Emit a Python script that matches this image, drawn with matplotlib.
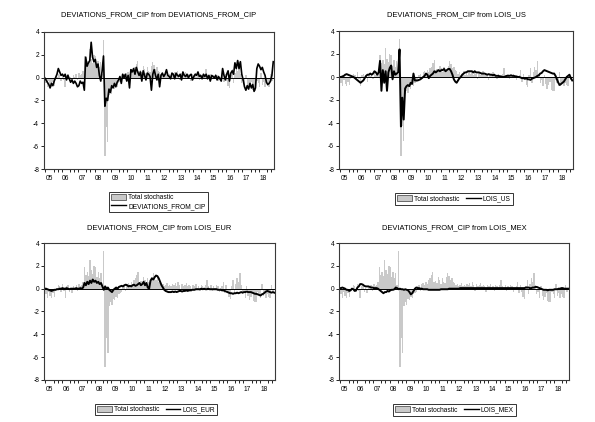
import numpy as np
import pandas as pd
import matplotlib
matplotlib.use("Agg")
import matplotlib.pyplot as plt
from matplotlib.patches import Patch
from matplotlib.lines import Line2D

# ---------------- data (monthly, Mar 2005 - Feb 2019) ----------------
start_month = "2005-03-01"
n_months = 168

total_stochastic = [
    -0.2, -0.5, -0.8, -0.3, -0.6, -0.8, -0.4, -0.7, -0.2, 0.1,
    0.3, 0.2, -0.3, 0.4, -0.2, -0.8, 0.2, 0.3, -0.3, 0.1, -0.4, 0.2,
    0.1, 0.3, -0.2, 0.4, 0.2, 0.3, 0.6, 1.9, 1.2, 1.5, 1.1, 2.5,
    1.6, 1.3, 2.0, 1.9, 1.0, 1.5, 0.9, 1.4, 0.3, 3.3, -6.9, -4.3,
    -5.6, -1.5, -1.2, -1.4, -0.9, -1.0, -0.7, -0.8, -0.5, -0.4, -0.3, 0.2,
    0.3, -0.2, 0.4, 0.5, 0.3, 0.6, 0.4, 0.8, 0.9, 1.2, 1.5, 0.6,
    0.7, 0.5, 1.0, 0.8, 0.4, 0.9, 0.6, 0.5, 1.0, 1.4, 1.1, 0.8,
    0.9, 0.6, 0.5, 0.3, 0.4, 0.2, 0.3, 0.5, 0.2, 0.3, 0.2, 0.4,
    0.3, 0.5, 0.2, 0.6, 0.3, -0.2, 0.4, 0.2, 0.3, 0.5, 0.2, 0.3,
    0.2, -0.3, 0.3, 0.2, 0.4, 0.1, 0.2, -0.2, 0.3, 0.2, 0.1, 0.3,
    0.8, 0.2, 0.1, 0.3, -0.2, 0.2, 0.1, 0.3, 0.2, -0.3, 0.1, 0.2,
    0.6, -0.4, 0.3, -0.3, -0.7, -0.9, 0.2, 0.8, -0.5, 0.4, 0.9, 0.6,
    1.4, 0.3, -0.5, -0.3, -0.8, 0.2, -0.6, -1.0, -0.7, -0.4, -1.1, -1.2,
    -1.2, -0.3, -0.5, -0.8, 0.4, -0.6, -0.4, -0.8, -0.5, -0.7, -0.8, 0.3,
    -0.3, 0.8,
]

deviations_from_cip = [
    0.0, -0.2, -0.4, -0.6, -0.9, -0.5, -0.7, -0.3, 0.0, 0.3,
    0.8, 0.5, 0.2, 0.3, 0.1, 0.3, -0.2, 0.2, -0.1, -0.4, -0.2, -0.5,
    -0.3, -0.5, -0.8, -0.7, -0.3, -0.5, -0.4, -1.1, 1.8, 1.0, 1.3, 1.5,
    3.1, 1.8, 1.4, 1.6, 0.9, 1.2, 0.2, -0.3, 0.6, 1.9, -2.5, -1.8,
    -2.0, -1.0, -1.3, -0.7, -0.9, -0.5, -0.8, -0.4, -0.2, 0.1, -0.5, 0.3,
    0.0, 0.3, -0.3, 0.2, -0.9, 0.7, 0.5, 0.8, 0.3, 0.9, 0.5, 0.2,
    0.5, -0.3, 0.6, 0.2, -0.2, 0.4, 0.3, 0.1, -1.1, 0.3, 0.7, 0.2,
    -0.2, 0.3, -0.8, 0.2, 0.4, 0.1, 0.3, 0.7, 0.2, 0.1, -0.1, 0.4,
    0.3, -0.1, 0.4, 0.2, 0.1, 0.3, -0.2, 0.5, 0.2, 0.1, 0.3, 0.0,
    0.2, 0.3, -0.2, 0.1, 0.3, 0.2, 0.5, 0.1, 0.2, -0.1, 0.3, 0.1,
    0.3, -0.1, 0.2, -0.3, 0.2, 0.1, 0.0, 0.2, -0.2, 0.1, -0.1, -0.3,
    0.8, 0.2, -0.2, 0.3, 0.6, -0.3, 0.4, 0.6, 0.3, 1.3, 0.8, 1.5,
    0.8, 1.4, 0.3, -0.2, -0.8, -1.1, -0.7, -1.0, -0.5, -0.9, -0.6, -1.2,
    -0.9, 0.8, 1.2, 1.0, 0.7, 0.9, 0.5, 0.2, -0.4, -0.6, -0.5, -0.3,
    0.2, 1.4,
]

lois_us = [
    0.0, 0.0, 0.05, 0.1, 0.2, 0.25, 0.2, 0.15, 0.1, 0.05,
    0.0, -0.1, -0.2, -0.3, -0.4, -0.5, -0.4, -0.3, -0.1, 0.1, 0.2, 0.2,
    0.3, 0.2, 0.3, 0.5, 0.4, 0.2, 0.4, 1.4, -1.2, 0.6, -0.5, 0.5,
    -1.2, 0.4, 0.8, 1.0, -0.2, 0.5, 0.2, 0.3, 0.4, 2.4, -4.3, -1.8,
    -3.7, -1.0, -0.8, -0.7, -0.8, -0.5, -0.6, 0.3, -0.3, -0.3, -0.3, -0.25,
    -0.2, -0.1, 0.0, 0.1, 0.3, 0.2, -0.1, 0.1, 0.2, 0.3, 0.5, 0.4,
    0.5, 0.6, 0.5, 0.6, 0.6, 0.7, 0.5, 0.6, 0.7, 0.7, 0.5, 0.2,
    -0.2, -0.4, -0.5, -0.3, -0.1, 0.0, 0.2, 0.3, 0.4, 0.4, 0.5, 0.5,
    0.5, 0.5, 0.4, 0.5, 0.4, 0.4, 0.4, 0.35, 0.3, 0.3, 0.3, 0.25,
    0.2, 0.25, 0.2, 0.2, 0.15, 0.2, 0.1, 0.1, 0.1, 0.05, 0.05, 0.0,
    0.0, 0.05, 0.1, 0.1, 0.1, 0.15, 0.1, 0.1, 0.05, 0.05, 0.0, 0.0,
    -0.05, -0.1, -0.1, -0.15, -0.1, -0.2, -0.2, -0.25, -0.15, -0.1, -0.05, 0.0,
    0.1, 0.15, 0.3, 0.35, 0.5, 0.6, 0.55, 0.5, 0.45, 0.4, 0.35, 0.3,
    0.3, 0.1, -0.2, -0.5, -0.7, -0.6, -0.5, -0.4, -0.2, 0.0, 0.1, 0.2,
    -0.1, -0.3,
]

lois_eur = [
    0.0, 0.0, -0.05, -0.1, -0.15, -0.2, -0.15, -0.1, -0.1, -0.05,
    -0.05, 0.0, 0.0, 0.05, 0.0, 0.0, 0.05, 0.0, -0.05, 0.0, 0.0, 0.0,
    0.0, 0.05, 0.0, 0.0, 0.05, 0.0, 0.1, 0.5, 0.3, 0.6, 0.4, 0.7,
    0.5, 0.8, 0.6, 0.7, 0.5, 0.6, 0.4, 0.5, 0.2, -0.1, 0.2, 0.0,
    0.1, -0.1, -0.2, -0.3, -0.1, 0.0, 0.1, 0.0, 0.15, 0.2, 0.25, 0.2,
    0.3, 0.35, 0.3, 0.2, 0.25, 0.2, 0.3, 0.35, 0.25, 0.3, 0.4, 0.5,
    0.3, 0.4, 0.6, 0.3, 0.5, 0.1, 0.0, 0.7, 0.9, 0.8, 1.0, 1.15,
    1.1, 0.9, 0.6, 0.3, 0.1, -0.1, -0.2, -0.25, -0.3, -0.3, -0.3, -0.25,
    -0.3, -0.25, -0.3, -0.25, -0.2, -0.2, -0.25, -0.2, -0.2, -0.15, -0.2, -0.15,
    -0.15, -0.1, -0.1, -0.1, -0.05, -0.05, -0.05, -0.05, 0.0, -0.05, 0.0, -0.05,
    -0.05, 0.0, -0.05, -0.05, -0.05, -0.05, -0.05, -0.05, -0.1, -0.1, -0.1, -0.15,
    -0.15, -0.2, -0.25, -0.3, -0.35, -0.4, -0.4, -0.45, -0.4, -0.4, -0.35, -0.4,
    -0.35, -0.3, -0.35, -0.3, -0.3, -0.25, -0.3, -0.3, -0.3, -0.35, -0.4, -0.45,
    -0.45, -0.5, -0.55, -0.6, -0.5, -0.45, -0.35, -0.25, -0.2, -0.25, -0.3, -0.35,
    -0.3, -0.35,
]

lois_mex = [
    0.05, 0.05, 0.1, 0.05, 0.0, -0.1, -0.1, -0.2, -0.15, 0.0,
    -0.05, -0.2, -0.15, 0.1, 0.2, 0.4, 0.4, 0.35, 0.25, 0.2, 0.2, 0.2,
    0.15, 0.1, 0.1, 0.05, 0.05, 0.05, 0.0, -0.1, -0.2, -0.3, -0.4, -0.3,
    -0.3, -0.2, -0.25, -0.15, -0.1, -0.1, -0.05, 0.1, 0.05, -0.05, 0.0, -0.05,
    -0.05, -0.1, -0.05, -0.1, -0.15, -0.3, -0.5, -0.4, -0.2, 0.0, 0.1, 0.05,
    0.05, 0.0, 0.0, -0.05, -0.05, -0.05, -0.05, -0.1, -0.1, -0.1, -0.1, -0.1,
    -0.1, -0.1, -0.1, -0.1, -0.05, -0.05, -0.05, -0.05, -0.05, -0.05, 0.0, 0.0,
    0.0, 0.0, 0.0, 0.0, 0.0, 0.0, 0.05, 0.05, 0.05, 0.05, 0.05, 0.05,
    0.05, 0.05, 0.05, 0.05, 0.05, 0.05, 0.05, 0.05, 0.05, 0.05, 0.05, 0.05,
    0.05, 0.05, 0.05, 0.05, 0.05, 0.05, 0.05, 0.05, 0.05, 0.05, 0.05, 0.05,
    0.05, 0.05, 0.05, 0.05, 0.05, 0.05, 0.05, 0.05, 0.05, 0.05, 0.05, 0.05,
    0.05, 0.05, 0.05, 0.05, 0.05, 0.05, 0.1, 0.1, 0.1, 0.05, 0.05, 0.1,
    0.1, 0.15, 0.15, 0.1, 0.05, 0.0, -0.05, -0.1, -0.1, -0.1, -0.15, -0.1,
    -0.1, -0.1, -0.1, -0.05, -0.05, -0.05, 0.0, 0.0, 0.05, 0.05, 0.0, 0.0,
    0.0, 0.0,
]

year_labels = ["05", "06", "07", "08", "09", "10", "11", "12",
               "13", "14", "15", "16", "17", "18"]
y_ticks = [-8, -6, -4, -2, 0, 2, 4]

panels = [
    ("DEVIATIONS_FROM_CIP from DEVIATIONS_FROM_CIP", deviations_from_cip, "DEVIATIONS_FROM_CIP"),
    ("DEVIATIONS_FROM_CIP from LOIS_US", lois_us, "LOIS_US"),
    ("DEVIATIONS_FROM_CIP from LOIS_EUR", lois_eur, "LOIS_EUR"),
    ("DEVIATIONS_FROM_CIP from LOIS_MEX", lois_mex, "LOIS_MEX"),
]

# ---------------- figure ----------------
plt.rcParams["font.family"] = ["Liberation Sans", "DejaVu Sans"]
plt.rcParams["axes.unicode_minus"] = False

W, H = 595, 422
fig = plt.figure(figsize=(W / 100, H / 100), dpi=100)
fig.patch.set_facecolor("white")

dates = pd.date_range(start_month, periods=n_months, freq="MS")
t = np.asarray(dates.year + (dates.month - 0.5) / 12.0, dtype=float)
gray = np.array(total_stochastic)

# axes boxes in pixels: (left, right, top, bottom)
boxes = [(44, 274, 32, 169), (339, 573, 31, 169),
         (44, 275, 243, 380), (339, 569, 243, 380)]
title_y = [15, 15, 228, 228]
legend_c = [(158.5, 202), (454, 199), (156, 409.5), (454.5, 410)]

GRAY = "#c9c9c9"
for i, ((l, r, tp, b), (title, series, lab)) in enumerate(zip(boxes, panels)):
    ax = fig.add_axes([l / W, 1 - b / H, (r - l) / W, (b - tp) / H])
    ax.fill_between(t, gray, 0, step="mid", color=GRAY, linewidth=0, zorder=1)
    ax.axhline(0, color="black", lw=0.7, zorder=2)
    ax.plot(t, series, color="black", lw=1.2 if i == 0 else 1.4, zorder=3)
    ax.set_xlim(2005.17, 2019.17)
    ax.set_ylim(-8, 4)
    ax.set_yticks(y_ticks)
    ax.set_yticklabels([str(v) for v in y_ticks])
    mids = [2005.5 + k for k in range(len(year_labels))]
    ax.set_xticks(mids)
    ax.set_xticklabels(year_labels)
    ax.set_xticks(np.arange(2005.25, 2019.1, 0.25), minor=True)
    ax.tick_params(axis="x", which="major", length=0, labelsize=4.8, pad=4)
    ax.tick_params(axis="x", which="minor", length=2, width=0.6, direction="out")
    ax.tick_params(axis="y", which="major", length=2, width=0.6, labelsize=4.8, pad=1.5,
                   direction="out")
    for sp in ax.spines.values():
        sp.set_color("#3a3a3a")
        sp.set_linewidth(0.8)
        sp.set_zorder(5)
    fig.text(((l + r) / 2) / W, 1 - title_y[i] / H, title, ha="center", va="center",
             fontsize=5.4)
    handles = [Patch(facecolor=GRAY, edgecolor="#555555", linewidth=0.6),
               Line2D([0], [0], color="black", lw=1.0)]
    cx, cy = legend_c[i]
    leg = fig.legend(handles, ["Total stochastic", lab], loc="center",
                     bbox_to_anchor=(cx / W, 1 - cy / H),
                     ncol=1 if i == 0 else 2, fontsize=4.8, frameon=True,
                     fancybox=False, borderpad=0.3, handlelength=2.2,
                     handleheight=0.9, handletextpad=0.3, columnspacing=1.0,
                     labelspacing=0.25, borderaxespad=0)
    leg.get_frame().set_edgecolor("black")
    leg.get_frame().set_linewidth(0.7)

fig.savefig("out.png", dpi=100, facecolor="white")
